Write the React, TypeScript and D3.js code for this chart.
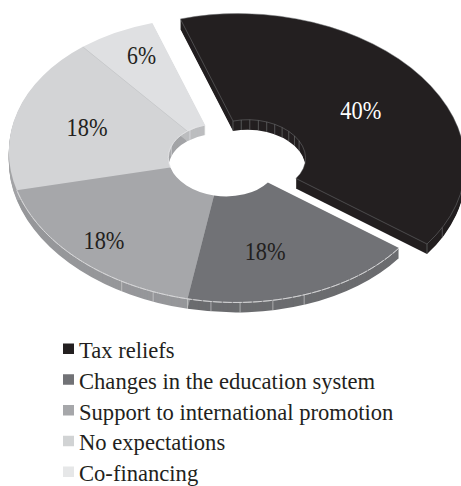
import React from "react";
import * as d3 from "d3";

const categories = [
  "Tax reliefs",
  "Changes in the education system",
  "Support to international promotion",
  "No expectations",
  "Co-financing",
];
const shares = [40, 18, 18, 18, 6];
const faceColors = ["#231f20", "#717276", "#a6a7aa", "#d3d4d6", "#dfe0e2"];
const wallColors = ["#231f20", "#6b6c6f", "#96979a", "#a3a4a7", "#bcbdbf"];
const labelColors = ["#ffffff", "#231f20", "#231f20", "#231f20", "#231f20"];
const legendColors = ["#231f20", "#717276", "#a6a7aa", "#d1d3d4", "#e6e7e8"];
const explodedOffsets = [[28, -4], [0, 0], [0, 0], [0, 0], [0, 0]];
// Label anchors given in the disc's own unit coordinates.
const labelAnchors = [[0.216, -0.58], [0.518, 0.41], [-0.119, 0.812], [-0.634, 0.208], [-0.722, -0.366]];
// Facet seams on the side walls, in degrees around the disc.
const outerSeams = [33, 41.8, 50.7, 58.5, 64.8, 74.3, 83.5];
const blackOuterSeams = [-8, 0];
const blackInnerSeams = [-144, -135, -126, -117, -108, -99, -90, -81, -72, -63];
const paleInnerSeams = [164, 198, 216];

const WIDTH = 461;
const HEIGHT = 486;
const CENTER = [223, 160];
const AXIS_U = [176, 88];
const AXIS_V = [-122, 112];
const DEPTH = 10;
const INNER = 0.255;
const SERIF = "'Liberation Serif', serif";

// Tilted disc: the unit-circle arcs are mapped through one affine matrix.
const tilt = (dx: number, dy: number, down = 0) =>
  `matrix(${AXIS_U[0]} ${AXIS_U[1]} ${AXIS_V[0]} ${AXIS_V[1]} ${CENTER[0] + dx} ${CENTER[1] + dy + down})`;

const project = (x: number, y: number): [number, number] => [
  CENTER[0] + AXIS_U[0] * x + AXIS_V[0] * y,
  CENTER[1] + AXIS_U[1] * x + AXIS_V[1] * y,
];

const rimPoint = (deg: number, r: number, off = [0, 0]): [number, number] => {
  const t = (deg * Math.PI) / 180;
  const [x, y] = project(r * Math.cos(t), r * Math.sin(t));
  return [x + off[0], y + off[1]];
};

function Seams({ degs, r, off, stroke }: { degs: number[]; r: number; off?: number[]; stroke: string }) {
  return (
    <>
      {degs.map((d) => {
        const [x, y] = rimPoint(d, r, off);
        return <line key={d} x1={x} x2={x} y1={y} y2={y + DEPTH} stroke={stroke} strokeWidth={0.6} />;
      })}
    </>
  );
}

export default function App() {
  const slices = d3
    .pie<number>()
    .sort(null)
    .startAngle((-54 * Math.PI) / 180)
    .endAngle((306 * Math.PI) / 180)(shares);
  const arc = d3.arc<d3.PieArcDatum<number>>().innerRadius(INNER).outerRadius(1);
  const rim = d3.arc<d3.PieArcDatum<number>>().innerRadius(1).outerRadius(1);
  const hole = d3.arc<d3.PieArcDatum<number>>().innerRadius(INNER).outerRadius(INNER);
  const depths = d3.range(DEPTH, 0, -1);
  const legendY = d3.scalePoint<string>().domain(categories).range([358, 481]);
  const blackOff = explodedOffsets[0];
  const seamStart = rimPoint(194.4, INNER);
  const seamEnd = rimPoint(194.4, 1);

  return (
    <svg
      width={WIDTH}
      height={HEIGHT}
      viewBox={`0 0 ${WIDTH} ${HEIGHT}`}
      style={{ position: "fixed", left: 0, top: 0, background: "#fff" }}
    >
      {slices.map((s, i) =>
        depths.map((k) => (
          <path
            key={`${i}-${k}`}
            d={arc(s) as string}
            transform={tilt(explodedOffsets[i][0], explodedOffsets[i][1], k)}
            fill={wallColors[i]}
          />
        )),
      )}
      {slices.map((s, i) => (
        <path
          key={i}
          d={arc(s) as string}
          transform={tilt(explodedOffsets[i][0], explodedOffsets[i][1])}
          fill={faceColors[i]}
          stroke={i === 0 ? "#77787a" : "none"}
          strokeWidth={0.5}
          vectorEffect="non-scaling-stroke"
        />
      ))}
      {/* pale edges along the near rim */}
      {[slices[1], slices[2]].map((s, i) => (
        <path
          key={i}
          d={rim(s) as string}
          transform={tilt(0, 0)}
          fill="none"
          stroke="#dcdcde"
          strokeWidth={0.7}
          strokeDasharray="9 1"
          vectorEffect="non-scaling-stroke"
        />
      ))}
      {[slices[3], slices[4]].map((s, i) => (
        <path
          key={i}
          d={hole(s) as string}
          transform={tilt(0, 0)}
          fill="none"
          stroke="#e8e8ea"
          strokeWidth={0.5}
          vectorEffect="non-scaling-stroke"
        />
      ))}
      <line x1={seamStart[0]} y1={seamStart[1]} x2={seamEnd[0]} y2={seamEnd[1]} stroke="#bfc0c2" strokeWidth={0.5} />
      <Seams degs={outerSeams} r={1} stroke="#d6d6d8" />
      <Seams degs={blackOuterSeams} r={1} off={blackOff} stroke="#77787a" />
      <Seams degs={blackInnerSeams} r={INNER} off={blackOff} stroke="#77787a" />
      <Seams degs={paleInnerSeams} r={INNER} stroke="#e8e8ea" />
      {shares.map((v, i) => {
        const [x, y] = project(labelAnchors[i][0], labelAnchors[i][1]);
        return (
          <text
            key={i}
            x={x + explodedOffsets[i][0] + 1}
            y={y + explodedOffsets[i][1] + 8.5}
            textAnchor="middle"
            fontFamily={SERIF}
            fontSize={25.5}
            textLength={v < 10 ? 29 : 41}
            lengthAdjust="spacingAndGlyphs"
            fill={labelColors[i]}
          >
            {`${v}%`}
          </text>
        );
      })}
      {categories.map((c, i) => {
        const y = legendY(c) as number;
        return (
          <g key={c}>
            <rect x={63} y={y - 14.5} width={11} height={10.5} fill={legendColors[i]} />
            <text x={79} y={y} fontFamily={SERIF} fontSize={22.6} fill="#231f20">
              {c}
            </text>
          </g>
        );
      })}
    </svg>
  );
}
